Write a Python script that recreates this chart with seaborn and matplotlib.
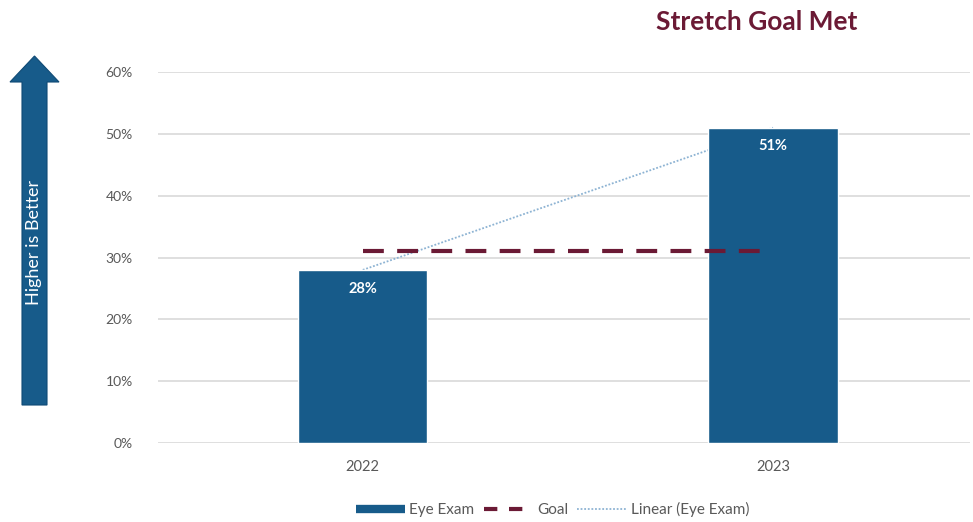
import matplotlib
matplotlib.use("Agg")
import matplotlib.pyplot as plt
import matplotlib.patches as mpatches
from matplotlib.lines import Line2D
import numpy as np
import pandas as pd
import seaborn as sns

# Data
years = ["2022", "2023"]
eye_exam = [0.28, 0.51]
goal = [0.31, 0.31]
y_ticks = [0.0, 0.1, 0.2, 0.3, 0.4, 0.5, 0.6]

BAR = "#175B8A"
MAROON = "#6B1A35"
TREND = "#8DB3D3"
GRID = "#D9D9D9"
TXT = "#595959"

sns.set_theme(style="white")
plt.rcParams["font.family"] = ["Lato", "DejaVu Sans"]

fig = plt.figure(figsize=(9.73, 5.22), dpi=100)
ax = fig.add_axes([0.162, 0.1513, 0.835, 0.7107])

df = pd.DataFrame({"Year": years, "Rate": eye_exam})

# linear trend through the bar values, drawn behind the bars
xpos = np.arange(len(years))
slope, intercept = np.polyfit(xpos, eye_exam, 1)
ax.plot(xpos, slope * xpos + intercept, color=TREND, lw=1.3,
        linestyle=(0, (1, 1)), zorder=1)

sns.barplot(data=df, x="Year", y="Rate", color=BAR, width=0.315,
            saturation=1, ax=ax, zorder=2)

# goal line
ax.plot(xpos, goal, color=MAROON, lw=3, linestyle=(0, (5, 3.2)), zorder=3)

# value labels
for i, v in enumerate(eye_exam):
    ax.text(i, v - 0.019, f"{v*100:.0f}%", ha="center", va="top",
            color="white", fontsize=10.5, fontweight="bold", zorder=4)

ax.set_ylim(0, 0.6)
ax.set_xlim(-0.5, 1.48)
ax.set_yticks(y_ticks)
ax.set_yticklabels([f"{t*100:.0f}%" for t in y_ticks])
ax.yaxis.grid(True, color=GRID, lw=1.2)
ax.set_axisbelow(True)
for s in ax.spines.values():
    s.set_visible(False)
ax.tick_params(axis="y", length=0, pad=18, labelsize=10, labelcolor=TXT)
ax.tick_params(axis="x", length=0, pad=12, labelsize=10.5, labelcolor=TXT)
ax.set_xlabel("")
ax.set_ylabel("")

# legend
handles = [
    Line2D([0], [0], color=BAR, lw=6, solid_capstyle="butt"),
    Line2D([0], [0], color=MAROON, lw=3, linestyle=(0, (3.2, 2.8)),
           dash_capstyle="butt"),
    Line2D([0], [0], color=TREND, lw=1.3, linestyle=(0, (1, 1))),
]
fig.legend(handles, ["Eye Exam", "Goal", "Linear (Eye Exam)"],
           loc="center", bbox_to_anchor=(0.568, 0.024), ncol=3, frameon=False,
           fontsize=11, labelcolor=TXT, handlelength=3.2, handletextpad=0.3,
           columnspacing=0.6)

# title
fig.text(0.778, 0.958, "Stretch Goal Met", ha="center", va="center",
         color=MAROON, fontsize=19, fontweight="bold")

# "Higher is Better" arrow
ov = fig.add_axes([0, 0, 1, 1], zorder=-1)
ov.set_xlim(0, 973)
ov.set_ylim(522, 0)
ov.axis("off")
arrow = mpatches.Polygon(
    [(22, 405), (22, 82), (10, 82), (34.5, 56), (59, 82), (47, 82), (47, 405)],
    closed=True, facecolor=BAR, edgecolor="#0F4A75", lw=0.8)
ov.add_patch(arrow)
ov.text(34.5, 242, "Higher is Better", rotation=90, ha="center", va="center",
        color="white", fontsize=13)

fig.savefig("out.png", dpi=100)
